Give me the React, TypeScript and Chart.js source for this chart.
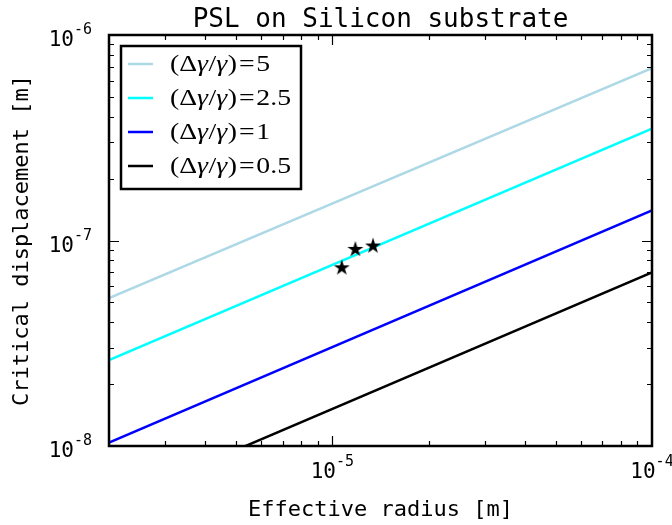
import React, { useEffect, useRef } from 'react';
import { Chart, registerables } from 'chart.js';

Chart.register(...registerables);

// ---- data ----
const radiusEnds = [2e-6, 1e-4];
const ratioLabels = ['5', '2.5', '1', '0.5'];
const disp5 = [5.25e-8, 6.9e-7];
const disp25 = [2.62e-8, 3.5e-7];
const disp1 = [1.04e-8, 1.4e-7];
const disp05 = [5.2e-9, 7.0e-8];
const lineColors = ['#ADD8E6', '#00FFFF', '#0000FF', '#000000'];

const starRadius = [1.07e-5, 1.18e-5, 1.34e-5];
const starDisp = [7.4e-8, 9.1e-8, 9.45e-8];

const xMin = 2e-6;
const xMax = 1e-4;
const yMin = 1e-8;
const yMax = 1e-6;

const xMajorTicks = [1e-5, 1e-4];
const xMajorLabels = ['-5', '-4'];
const yMajorTicks = [1e-8, 1e-7, 1e-6];
const yMajorLabels = ['-8', '-7', '-6'];
const minorMultipliers = [2, 3, 4, 5, 6, 7, 8, 9];
const xDecades = [1e-6, 1e-5];
const yDecades = [1e-8, 1e-7];

const titleText = 'PSL on Silicon substrate';
const xTitle = 'Effective radius [m]';
const yTitle = 'Critical displacement [m]';

const MONO = '"DejaVu Sans Mono", monospace';
const SERIF = '"Liberation Serif", serif';

function makeStar(): HTMLCanvasElement {
  const c = document.createElement('canvas');
  c.width = 20;
  c.height = 20;
  const g = c.getContext('2d')!;
  const cx = 10, cy = 10.5, R = 8.4, r = R * 0.382;
  g.beginPath();
  for (let i = 0; i < 10; i++) {
    const a = -Math.PI / 2 + (i * Math.PI) / 5;
    const rr = i % 2 === 0 ? R : r;
    const px = cx + rr * Math.cos(a);
    const py = cy + rr * Math.sin(a);
    if (i === 0) g.moveTo(px, py);
    else g.lineTo(px, py);
  }
  g.closePath();
  g.fillStyle = '#000';
  g.fill();
  return c;
}

const mathSegs = (value: string): [string, boolean, number][] => [
  ['(', false, 0],
  ['\u0394', false, 0],
  ['\u03B3', true, 0.5],
  ['/', false, 0],
  ['\u03B3', true, 0.5],
  [')', false, 1.5],
  ['=', false, 1.5],
  [value, false, 0],
];

function drawMathLabel(ctx: CanvasRenderingContext2D, x: number, y: number, value: string, size: number, sx: number) {
  ctx.save();
  ctx.translate(x, y);
  ctx.scale(sx, 1);
  let cur = 0;
  ctx.fillStyle = '#000';
  ctx.textBaseline = 'alphabetic';
  ctx.textAlign = 'left';
  for (const [t, it, pad] of mathSegs(value)) {
    ctx.font = `${it ? 'italic ' : ''}${size}px ${SERIF}`;
    ctx.fillText(t, cur, 0);
    cur += ctx.measureText(t).width + pad;
  }
  ctx.restore();
}

function mathWidth(ctx: CanvasRenderingContext2D, value: string, size: number) {
  let w = 0;
  for (const [t, it, pad] of mathSegs(value)) {
    ctx.font = `${it ? 'italic ' : ''}${size}px ${SERIF}`;
    w += ctx.measureText(t).width + pad;
  }
  return w;
}

function drawPow(ctx: CanvasRenderingContext2D, exp: string, x: number, baseY: number, align: 'center' | 'right') {
  ctx.font = `21px ${MONO}`;
  const wb = ctx.measureText('10').width;
  ctx.font = `15px ${MONO}`;
  const we = ctx.measureText(exp).width;
  const total = wb + we;
  const start = align === 'center' ? x - total / 2 : x - total;
  ctx.textAlign = 'left';
  ctx.textBaseline = 'alphabetic';
  ctx.fillStyle = '#000';
  ctx.font = `21px ${MONO}`;
  ctx.fillText('10', start, baseY);
  ctx.font = `15px ${MONO}`;
  ctx.fillText(exp, start + wb, baseY - 12);
}

const decorPlugin = {
  id: 'decor',
  afterDraw(chart: any) {
    const ctx: CanvasRenderingContext2D = chart.ctx;
    const { left, right, top, bottom } = chart.chartArea;
    const xs = chart.scales.x;
    const ys = chart.scales.y;
    ctx.save();

    // ticks (inside, all four sides)
    ctx.strokeStyle = '#000';
    ctx.lineWidth = 1.2;
    const majLen = 10, minLen = 5;
    const xTick = (v: number, len: number) => {
      const p = Math.round(xs.getPixelForValue(v)) + 0.5;
      ctx.beginPath();
      ctx.moveTo(p, bottom);
      ctx.lineTo(p, bottom - len);
      ctx.moveTo(p, top);
      ctx.lineTo(p, top + len);
      ctx.stroke();
    };
    const yTick = (v: number, len: number) => {
      const p = Math.round(ys.getPixelForValue(v)) + 0.5;
      ctx.beginPath();
      ctx.moveTo(left, p);
      ctx.lineTo(left + len, p);
      ctx.moveTo(right, p);
      ctx.lineTo(right - len, p);
      ctx.stroke();
    };
    for (const d of xDecades) for (const m of minorMultipliers) {
      const v = d * m;
      if (v > xMin * 1.0001 && v < xMax) xTick(v, minLen);
    }
    for (const v of xMajorTicks) if (v < xMax) xTick(v, majLen);
    for (const d of yDecades) for (const m of minorMultipliers) {
      const v = d * m;
      if (v > yMin && v < yMax) yTick(v, minLen);
    }
    for (const v of yMajorTicks) if (v > yMin && v < yMax) yTick(v, majLen);

    // frame
    ctx.lineWidth = 2.5;
    ctx.strokeRect(left, top, right - left, bottom - top);

    // tick labels
    xMajorTicks.forEach((v, i) => drawPow(ctx, xMajorLabels[i], xs.getPixelForValue(v), 478, 'center'));
    yMajorTicks.forEach((v, i) => drawPow(ctx, yMajorLabels[i], 92, ys.getPixelForValue(v) + 11, 'right'));

    // titles
    ctx.fillStyle = '#000';
    ctx.textBaseline = 'alphabetic';
    ctx.textAlign = 'center';
    ctx.font = `26px ${MONO}`;
    ctx.fillText(titleText, (left + right) / 2, 27);
    ctx.font = `22px ${MONO}`;
    ctx.fillText(xTitle, (left + right) / 2, 516);
    ctx.save();
    ctx.translate(28, (top + bottom) / 2);
    ctx.rotate(-Math.PI / 2);
    ctx.fillText(yTitle, 0, 0);
    ctx.restore();

    // legend
    const lx = 121, ly = 46, lw = 180, lh = 143;
    ctx.fillStyle = '#fff';
    ctx.fillRect(lx, ly, lw, lh);
    ctx.lineWidth = 2.5;
    ctx.strokeStyle = '#000';
    ctx.strokeRect(lx, ly, lw, lh);
    const size = 23;
    const sx = 121 / mathWidth(ctx, '2.5', size);
    ratioLabels.forEach((lab, i) => {
      const ry = 64 + i * 34;
      ctx.strokeStyle = lineColors[i];
      ctx.lineWidth = 2.5;
      ctx.beginPath();
      ctx.moveTo(128, ry);
      ctx.lineTo(153, ry);
      ctx.stroke();
      drawMathLabel(ctx, 170, ry + 7, lab, size, sx);
    });

    ctx.restore();
  },
};

export default function App() {
  const ref = useRef<HTMLCanvasElement>(null);
  useEffect(() => {
    document.body.style.margin = '0';
    const canvas = ref.current!;
    const star = makeStar();
    const series = [disp5, disp25, disp1, disp05];
    const lineSets = series.map((s, i) => ({
      label: ratioLabels[i],
      data: radiusEnds.map((x, j) => ({ x, y: s[j] })),
      showLine: true,
      borderColor: lineColors[i],
      backgroundColor: lineColors[i],
      borderWidth: 2.5,
      pointRadius: 0,
      fill: false,
      order: 1,
    }));
    const chart = new Chart(canvas, {
      type: 'scatter',
      data: {
        datasets: [
          {
            label: 'stars',
            data: starRadius.map((x, i) => ({ x, y: starDisp[i] })),
            pointStyle: star as any,
            pointRadius: 8,
            showLine: false,
            order: 0,
          } as any,
          ...lineSets,
        ],
      },
      options: {
        animation: false,
        responsive: false,
        devicePixelRatio: 1,
        layout: { padding: { left: 109, top: 35, right: 20, bottom: 79 } },
        plugins: { legend: { display: false }, title: { display: false }, tooltip: { enabled: false } },
        scales: {
          x: { type: 'logarithmic', min: xMin, max: xMax, display: false },
          y: { type: 'logarithmic', min: yMin, max: yMax, display: false },
        },
      },
      plugins: [decorPlugin],
    });
    return () => chart.destroy();
  }, []);
  return <canvas ref={ref} width={672} height={525} style={{ display: 'block', background: '#fff' }} />;
}
